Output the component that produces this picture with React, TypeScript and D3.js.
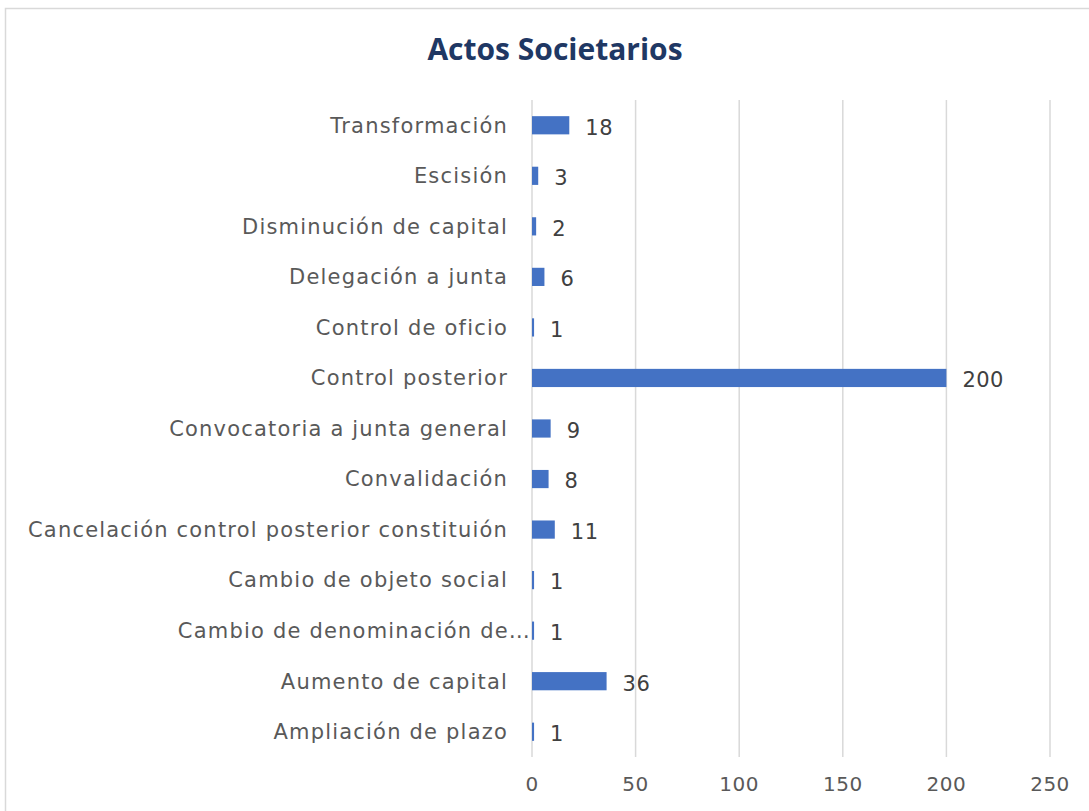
import React from "react";
import * as d3 from "d3";

const categories = [
  "Transformación",
  "Escisión",
  "Disminución de capital",
  "Delegación a junta",
  "Control de oficio",
  "Control posterior",
  "Convocatoria a junta general",
  "Convalidación",
  "Cancelación control posterior constituión",
  "Cambio de objeto social",
  "Cambio de denominación de…",
  "Aumento de capital",
  "Ampliación de plazo",
];
const values = [18, 3, 2, 6, 1, 200, 9, 8, 11, 1, 1, 36, 1];
const ticks = [0, 50, 100, 150, 200, 250];

const W = 1089;
const H = 811;
const FONT = "'DejaVu Sans', sans-serif";
const TITLE_FONT = "'Open Sans', 'DejaVu Sans', sans-serif";

export default function App() {
  const x = d3.scaleLinear().domain([0, 250]).range([532, 1050]);
  const y = d3
    .scaleBand<string>()
    .domain(categories)
    .range([100, 757])
    .paddingInner(0.64)
    .paddingOuter(0.32);
  const bw = y.bandwidth();

  return (
    <svg
      width={W}
      height={H}
      style={{ position: "absolute", left: 0, top: 0, background: "#fff" }}
    >
      <rect x={0} y={0} width={W} height={H} fill="#fff" />
      <rect
        x={5.5}
        y={8.5}
        width={1200}
        height={900}
        fill="none"
        stroke="#d9d9d9"
        strokeWidth={1.5}
      />
      <text
        x={555}
        y={60}
        textAnchor="middle"
        fontFamily={TITLE_FONT}
        fontWeight={700}
        fontSize={30}
        fill="#1f3864"
      >
        Actos Societarios
      </text>
      {ticks.map((t) => (
        <g key={t}>
          <line
            x1={x(t)}
            x2={x(t)}
            y1={100}
            y2={757}
            stroke="#d9d9d9"
            strokeWidth={1.5}
          />
          <text
            x={x(t)}
            y={791}
            textAnchor="middle"
            fontFamily={FONT}
            fontSize={20}
            letterSpacing={0.5}
            fill="#595959"
          >
            {t}
          </text>
        </g>
      ))}
      {categories.map((c, i) => {
        const yc = (y(c) as number) + bw / 2;
        const trunc = c.endsWith("…");
        return (
          <g key={c}>
            <rect
              x={x(0)}
              y={y(c) as number}
              width={x(values[i]) - x(0)}
              height={bw}
              fill="#4472c4"
            />
            <text
              x={trunc ? x(0) - 1 : 508}
              y={yc}
              dy="0.35em"
              textAnchor="end"
              fontFamily={FONT}
              fontSize={21}
              letterSpacing={1.2}
              fill="#595959"
            >
              {c}
            </text>
            <text
              x={x(values[i]) + 16}
              y={yc + 2}
              dy="0.35em"
              textAnchor="start"
              fontFamily={FONT}
              fontSize={21}
              letterSpacing={0.5}
              fill="#404040"
            >
              {values[i]}
            </text>
          </g>
        );
      })}
    </svg>
  );
}
